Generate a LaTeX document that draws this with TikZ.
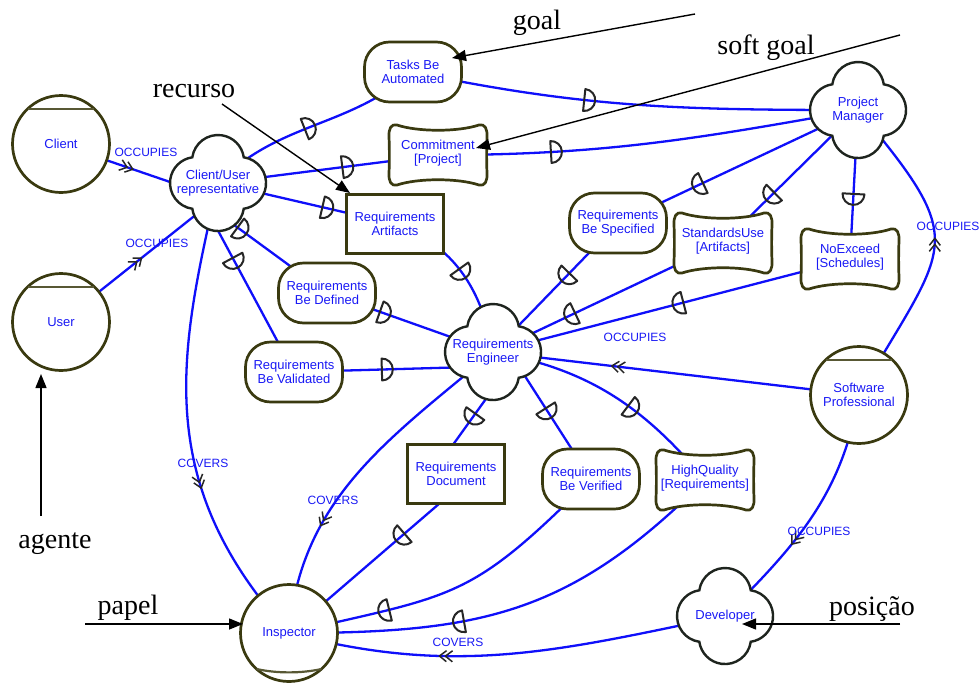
\documentclass[tikz,border=0pt]{standalone}
\usepackage{fontspec}
\newfontfamily\sansf{Liberation Sans}
\newfontfamily\seriff{Liberation Serif}
\usetikzlibrary{arrows.meta,decorations.markings}
\pgfdeclarelayer{bg}\pgfdeclarelayer{mid}\pgfsetlayers{bg,mid,main}
\definecolor{olv}{RGB}{58,58,16}
\definecolor{lnblue}{RGB}{15,15,250}
\definecolor{txblue}{RGB}{25,25,245}
\definecolor{cloudc}{RGB}{30,36,30}

\tikzset{
  hub/.style={circle, inner sep=0pt, minimum size=60pt},
  hubrect/.style={rectangle, inner sep=0pt, minimum width=80pt, minimum height=44pt},
  txt/.style={font={\sansf\fontsize{13}{13.5}\selectfont}, text=txblue, align=center, inner sep=0pt},
  lbl/.style={font={\sansf\fontsize{12}{12.5}\selectfont}, text=txblue, inner sep=0pt},
  ann/.style={font={\seriff\fontsize{28}{30}\selectfont}, inner sep=0pt, anchor=base},
  link/.style={draw=lnblue, line width=2.3pt},
  dshape/.style={draw=black!85, line width=2pt, line join=round},
  chev/.style={draw=black!85, line width=1.5pt},
  dm/.style={postaction={decorate, decoration={markings, mark=at position #1 with {\draw[dshape] (-5.5pt,-11pt) arc[start angle=-90,end angle=90,radius=11pt] -- cycle;}}}},
  cm/.style={postaction={decorate, decoration={markings, mark=at position #1 with {\draw[chev] (-11pt,-5.5pt) -- (-4pt,0pt) -- (-11pt,5.5pt); \draw[chev] (-5pt,-5.5pt) -- (2pt,0pt) -- (-5pt,5.5pt);}}}},
  shapeline/.style={draw=olv, line width=2.7pt, fill=white},
  chordline/.style={draw=olv!85, line width=2.2pt},
  cloudline/.style={draw=cloudc, line width=2.4pt, fill=white},
  annarrow/.style={draw=black, line width=1.4pt, -{Triangle[length=14pt,width=11pt]}}
}

\newcommand\cloudnode[4]{%
  \node[hub] (#1) at (#2,#3) {};
  \node[txt] (#1-t) at (#2,#3) {#4};
  \begin{pgfonlayer}{mid}
  \draw[cloudline, shift={(#2,#3)}] (-25.7,-25.7) arc[start angle=171.8,end angle=8.2,radius=26pt]
     arc[start angle=81.8,end angle=-81.8,radius=26pt]
     arc[start angle=-8.2,end angle=-171.8,radius=26pt]
     arc[start angle=-98.2,end angle=-261.8,radius=26pt] -- cycle;
  \end{pgfonlayer}}
\newcommand\agentnode[4]{%
  \node[hub] (#1) at (#2,#3) {};
  \node[txt] (#1-t) at (#2,#3) {#4};
  \begin{pgfonlayer}{mid}
  \draw[shapeline] (#2,#3) circle[radius=48.5pt];
  \draw[chordline, shift={(#2,#3)}] (-33,-35) -- (33,-35);
  \end{pgfonlayer}}
\newcommand\rolenode[4]{%
  \node[hub] (#1) at (#2,#3) {};
  \node[txt] (#1-t) at (#2,#3) {#4};
  \begin{pgfonlayer}{mid}
  \draw[shapeline] (#2,#3) circle[radius=48.5pt];
  \draw[chordline, shift={(#2,#3)}] (-32.5,36) .. controls (-12,40.5) and (12,40.5) .. (32.5,36);
  \end{pgfonlayer}}
\newcommand\goalnode[4]{%
  \node[hubrect] (#1) at (#2,#3) {};
  \node[txt] (#1-t) at (#2,#3) {#4};
  \begin{pgfonlayer}{mid}
  \draw[shapeline, rounded corners=25pt, shift={(#2,#3)}] (-48.5,-30) rectangle (48.5,30);
  \end{pgfonlayer}}
\newcommand\resnode[4]{%
  \node[hubrect] (#1) at (#2,#3) {};
  \node[txt] (#1-t) at (#2,#3) {#4};
  \begin{pgfonlayer}{mid}
  \draw[shapeline, line width=2.9pt, shift={(#2,#3)}] (-48.5,-29.5) rectangle (48.5,29.5);
  \end{pgfonlayer}}
\newcommand\softnode[4]{%
  \node[hubrect] (#1) at (#2,#3) {};
  \node[txt] (#1-t) at (#2,#3-2) {#4};
  \begin{pgfonlayer}{mid}
  \draw[shapeline, shift={(#2,#3)}] (-41,-30) .. controls (-20,-23) and (20,-23) .. (41,-30)
    .. controls (47,-31.5) and (49.5,-26) .. (49,-18)
    .. controls (48.5,-6) and (48.5,6) .. (49,18)
    .. controls (49.5,26) and (47,31.5) .. (41,30)
    .. controls (20,23) and (-20,23) .. (-41,30)
    .. controls (-47,31.5) and (-49.5,26) .. (-49,18)
    .. controls (-48.5,6) and (-48.5,-6) .. (-49,-18)
    .. controls (-49.5,-26) and (-47,-31.5) .. (-41,-30) -- cycle;
  \end{pgfonlayer}}

\begin{document}
\begin{tikzpicture}[x=1pt,y=-1pt]
\useasboundingbox (0,0) rectangle (979,683);
\begin{pgfonlayer}{bg}
\fill[white] (0,0) rectangle (979,683);
\end{pgfonlayer}

% clouds (positions)
\cloudnode{cur}{218}{183}{Client/User\\representative}
\cloudnode{pm}{858}{110}{Project\\Manager}
\cloudnode{re}{493}{352}{Requirements\\Engineer}
\cloudnode{dev}{725}{616}{Developer}
% agents and role
\agentnode{client}{61}{144}{Client}
\agentnode{user}{61}{322}{User}
\agentnode{sp}{859}{395}{Software\\Professional}
\rolenode{insp}{289}{633}{Inspector}
% goals
\goalnode{tba}{413}{72}{Tasks Be\\Automated}
\goalnode{rbs}{618}{223}{Requirements\\Be Specified}
\goalnode{rbd}{327}{293}{Requirements\\Be Defined}
\goalnode{rbv}{294}{372}{Requirements\\Be Validated}
\goalnode{rbver}{591}{479}{Requirements\\Be Verified}
% softgoals
\softnode{com}{438}{155}{Commitment\\{[Project]}}
\softnode{su}{723}{243}{StandardsUse\\{[Artifacts]}}
\softnode{ne}{850}{259}{NoExceed\\{[Schedules]}}
\softnode{hq}{705}{480}{HighQuality\\{[Requirements]}}
% resources
\resnode{ra}{395}{224}{Requirements\\Artifacts}
\resnode{rd}{456}{474}{Requirements\\Document}

\begin{pgfonlayer}{bg}
\draw[link, cm=0.42] (client.-20) -- (cur.190);
\draw[link, cm=0.556] (user.center) -- (cur.-120);
\draw[link, dm=0.48] (cur.center) .. controls +(62,-62) and +(-67,57) .. (tba.center);
\draw[link, dm=0.59] (cur.center) -- (com.center);
\draw[link, dm=0.62] (cur.center) -- (ra.center);
\draw[link, dm=0.22] (cur.south) -- (rbd.center);
\draw[link, dm=0.32] (cur.-110) -- (rbv.center);
\draw[link, cm=0.64] (cur.center) .. controls +(-38,167) and +(-139,-153) .. (insp.center);
\draw[link, dm=0.4] (tba.center) .. controls +(171,36) and +(-175,0) .. (pm.center);
\draw[link, dm=0.28] (com.center) .. controls +(165,0) and +(-162,29) .. (pm.center);
\draw[link, dm=0.5] (ra.center) .. controls +(59,21) and +(-11,-62) .. (re.center);
\draw[link, dm=0.667] (pm.center) -- (rbs.center);
\draw[link, dm=0.65] (pm.center) -- (su.center);
\draw[link, dm=0.6] (pm.center) -- (ne.center);
\draw[link, cm=0.53] (sp.center) .. controls +(89,-154) and +(114,136) .. (pm.center);
\draw[link, dm=0.42] (rbs.center) -- (re.center);
\draw[link, dm=0.665] (su.center) -- (re.center);
\draw[link, dm=0.416] (ne.-165) -- (re.center);
\draw[link, dm=0.35] (rbd.center) -- (re.center);
\draw[link, dm=0.54] (rbv.center) -- (re.-150);
\draw[link, cm=0.67] (sp.center) -- (re.center);
\draw[link, cm=0.62] (sp.center) .. controls +(-17,100) and +(71,-71) .. (dev.center);
\draw[link, dm=0.52] (re.-80) -- (rd.110);
\draw[link, dm=0.41] (re.-30) -- (rbver.center);
\draw[link, dm=0.6] (re.center) .. controls +(95,17) and +(-62,-74) .. (hq.center);
\draw[link, cm=0.68] (re.center) .. controls +(-104,87) and +(12,-135) .. (insp.center);
\draw[link, dm=0.3] (rd.-110) -- (insp.center);
\draw[link, dm=0.72] (rbver.center) .. controls +(-122,122) and +(168,-39) .. (insp.center);
\draw[link, dm=0.63] (hq.center) .. controls +(-135,135) and +(191,0) .. (insp.center);
\draw[link, cm=0.65] (dev.center) .. controls +(-167,35) and +(165,44) .. (insp.center);
% link labels
\node[lbl] (occ1) at (146,152) {OCCUPIES};
\node[lbl] (occ2) at (157,243) {OCCUPIES};
\node[lbl] (occ3) at (948,226) {OCCUPIES};
\node[lbl] (occ4) at (635,337) {OCCUPIES};
\node[lbl] (occ5) at (819,531) {OCCUPIES};
\node[lbl] (cov1) at (203,463) {COVERS};
\node[lbl] (cov2) at (333,500) {COVERS};
\node[lbl] (cov3) at (458,642) {COVERS};
\end{pgfonlayer}

% annotations
\node[ann] (goal) at (537,29) {goal};
\node[ann] (sgoal) at (766,54) {soft goal};
\node[ann] (rec) at (194,97) {recurso};
\node[ann] (agt) at (55,548) {agente};
\node[ann] (pap) at (128,614) {papel};
\node[ann] (posi) at (872,615) {posição};
\coordinate (goalA) at (695,14);  \coordinate (goalB) at (452,58);
\coordinate (sgA) at (900,35);    \coordinate (sgB) at (476,148);
\coordinate (recA) at (222,104);  \coordinate (recB) at (350,193);
\coordinate (agA) at (41,516);    \coordinate (agB) at (41,374);
\coordinate (papA) at (85,624);   \coordinate (papB) at (243,624);
\coordinate (posA) at (900,624);  \coordinate (posB) at (742,624);
\draw[annarrow] (goalA) -- (goalB);
\draw[annarrow] (sgA) -- (sgB);
\draw[annarrow] (recA) -- (recB);
\draw[annarrow] (agA) -- (agB);
\draw[annarrow] (papA) -- (papB);
\draw[annarrow] (posA) -- (posB);
\end{tikzpicture}
\end{document}
